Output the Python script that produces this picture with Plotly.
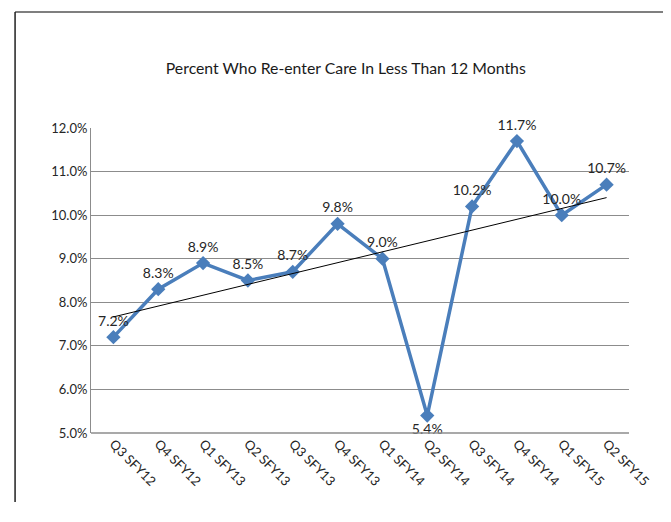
import numpy as np
import plotly.graph_objects as go

categories = ["Q3 SFY12", "Q4 SFY12", "Q1 SFY13", "Q2 SFY13", "Q3 SFY13", "Q4 SFY13",
              "Q1 SFY14", "Q2 SFY14", "Q3 SFY14", "Q4 SFY14", "Q1 SFY15", "Q2 SFY15"]
values = [7.2, 8.3, 8.9, 8.5, 8.7, 9.8, 9.0, 5.4, 10.2, 11.7, 10.0, 10.7]
y_ticks = [5, 6, 7, 8, 9, 10, 11, 12]
y_tick_labels = ["5.0%", "6.0%", "7.0%", "8.0%", "9.0%", "10.0%", "11.0%", "12.0%"]
title = "Percent Who Re-enter Care In Less Than 12 Months"

# linear trendline (least squares fit of the series)
idx = np.arange(len(values))
slope, intercept = np.polyfit(idx, values, 1)
trend = slope * idx + intercept

OFF = 8  # page body margin
W, H = 671 - 2 * OFF, 522 - 2 * OFF - 12
L, T = 91 - OFF, 128 - OFF
R = W - (629.5 - OFF)
B = H - (433 - OFF)
pw, ph = W - L - R, H - T - B

def px_x(x):
    return (x - OFF - L) / pw

def px_y(y):
    return (H - B - (y - OFF)) / ph

text_pos = ["bottom center" if v == min(values) else "top center" for v in values]

fig = go.Figure()
fig.add_trace(go.Scatter(
    x=categories, y=values, mode="lines+markers+text",
    line=dict(color="#4a7ebb", width=3.5),
    marker=dict(symbol="diamond", size=11, color="#4a7ebb"),
    text=[f"{v:.1f}%" for v in values], textposition=text_pos,
    textfont=dict(family="Lato, sans-serif", size=14, color="#262626"),
    cliponaxis=False, showlegend=False,
))
fig.add_trace(go.Scatter(
    x=categories, y=trend, mode="lines",
    line=dict(color="#000000", width=1), showlegend=False, hoverinfo="skip",
))

fig.update_layout(
    width=W, height=H,
    margin=dict(l=L, r=R, t=T, b=B, autoexpand=False),
    paper_bgcolor="white", plot_bgcolor="white",
    font=dict(family="Lato, sans-serif", size=13, color="#262626"),
    title=dict(text=title, x=px_x(346), xref="paper", xanchor="center",
               y=1 - (68 - OFF) / H, yanchor="middle",
               font=dict(family="Lato, sans-serif", size=15.8, color="#1a1a1a")),
    xaxis=dict(type="category", tickangle=45, showgrid=False, showline=False,
               ticks="", tickfont=dict(size=13), range=[-0.5, len(categories) - 0.5]),
    yaxis=dict(range=[5, 12], tickvals=y_ticks, ticktext=y_tick_labels,
               showgrid=True, gridcolor="#8c8c8c", gridwidth=1,
               showline=True, linecolor="#8c8c8c", linewidth=1,
               ticks="", zeroline=False, tickfont=dict(size=13)),
    shapes=[
        dict(type="line", xref="paper", yref="paper", x0=px_x(15), x1=px_x(671),
             y0=px_y(12), y1=px_y(12), line=dict(color="#7f7f7f", width=2)),
        dict(type="line", xref="paper", yref="paper", x0=px_x(15), x1=px_x(15),
             y0=px_y(12), y1=px_y(522), line=dict(color="#202020", width=1.5)),
        dict(type="line", xref="paper", yref="paper", x0=0, x1=1,
             y0=0, y1=0, line=dict(color="#8c8c8c", width=1.5)),
    ],
)

fig.write_html("out.html")
